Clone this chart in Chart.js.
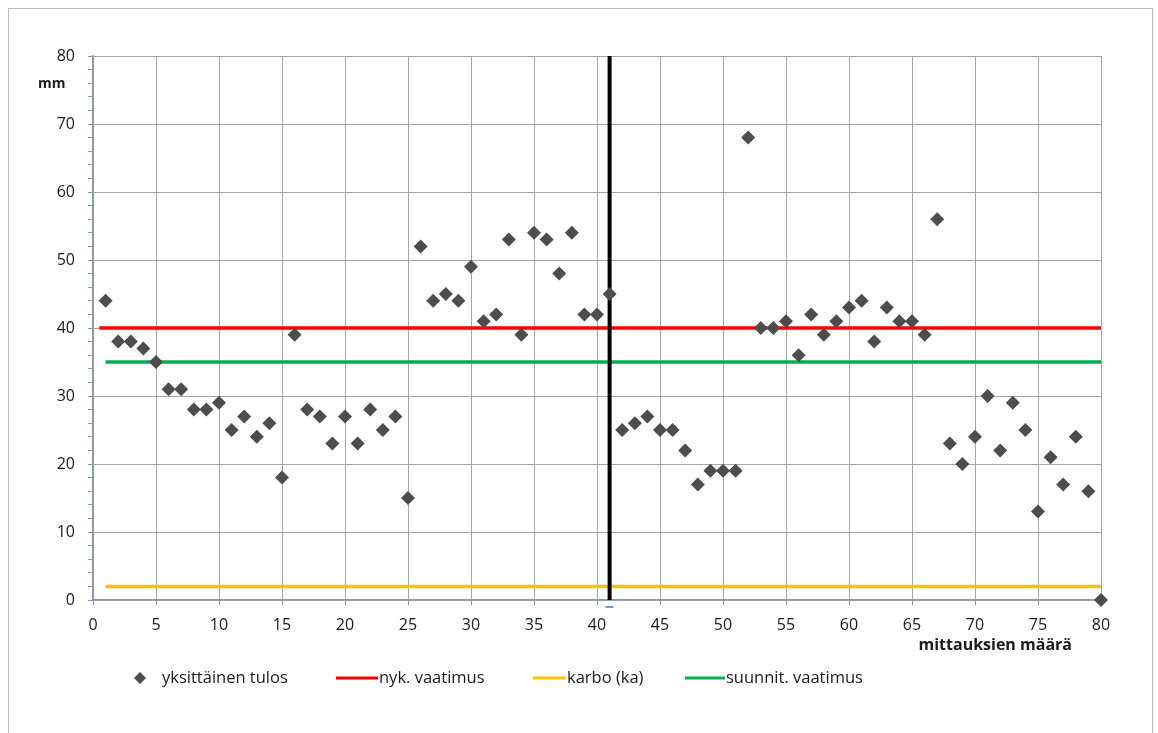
<!DOCTYPE html>
<html>
<head>
<meta charset="utf-8">
<script src="https://cdn.jsdelivr.net/npm/chart.js@4"></script>
<style>
  html, body { margin: 0; padding: 0; background: #fff; }
  #wrap { position: relative; width: 1158px; height: 733px; }
  #frame { position: absolute; left: 8px; top: 8px; width: 1145px; height: 740px;
           border: 1px solid #bdbdbd; box-sizing: border-box; pointer-events: none; }
  canvas { position: absolute; left: 0; top: 0; }
</style>
</head>
<body>
<div id="wrap">
  <canvas id="chart" width="1158" height="733"></canvas>
  <div id="frame"></div>
</div>
<script>
// ---------------------------------------------------------------------
// Data
// ---------------------------------------------------------------------
const MEAS_X = [
  1, 2, 3, 4, 5, 6, 7, 8, 9, 10, 11, 12, 13, 14, 15, 16, 17, 18, 19, 20,
  21, 22, 23, 24, 25, 26, 27, 28, 29, 30, 31, 32, 33, 34, 35, 36, 37, 38, 39, 40,
  41, 42, 43, 44, 45, 46, 47, 48, 49, 50, 51, 52, 53, 54, 55, 56, 57, 58, 59, 60,
  61, 62, 63, 64, 65, 66, 67, 68, 69, 70, 71, 72, 73, 74, 75, 76, 77, 78, 79, 80
];
const MEAS_Y = [
  44, 38, 38, 37, 35, 31, 31, 28, 28, 29, 25, 27, 24, 26, 18, 39, 28, 27, 23, 27,
  23, 28, 25, 27, 15, 52, 44, 45, 44, 49, 41, 42, 53, 39, 54, 53, 48, 54, 42, 42,
  45, 25, 26, 27, 25, 25, 22, 17, 19, 19, 19, 68, 40, 40, 41, 36, 42, 39, 41, 43,
  44, 38, 43, 41, 41, 39, 56, 23, 20, 24, 30, 22, 29, 25, 13, 21, 17, 24, 16, 0
];

const REQ_NOW = 40;        // nyk. vaatimus
const REQ_DESIGN = 35;     // suunnit. vaatimus
const KARBO = 2;           // karbo (ka)
const REQ_NOW_X = [0.5, 80];
const REQ_DESIGN_X = [1, 80];
const KARBO_X = [1, 80];
const DIVIDER_X = 41;
const DIVIDER_Y = [0, 80];

const X_MIN = 0, X_MAX = 80, X_STEP = 5;
const Y_MIN = 0, Y_MAX = 80, Y_STEP = 10, Y_MINOR = 2;

const LABELS = {
  scatter: "yksittäinen tulos",
  now: "nyk. vaatimus",
  karbo: "karbo (ka)",
  design: "suunnit. vaatimus",
  yTitle: "mm",
  xTitle: "mittauksien määrä"
};

const FONT = "'Open Sans', 'Liberation Sans', sans-serif";
const TEXT = "#1a1a1a";
const GRID = "#a6a6a6";
const AXIS = "#8796a8";

const pts = (xs, ys) => xs.map((x, i) => ({ x, y: ys[i] }));
const hline = (xs, v) => xs.map((x) => ({ x, y: v }));

// ---------------------------------------------------------------------
// Legend + axis titles drawn on canvas
// ---------------------------------------------------------------------
const extrasPlugin = {
  id: "extras",
  afterDraw(chart) {
    const c = chart.ctx;
    const area = chart.chartArea;
    c.save();
    c.fillStyle = TEXT;
    c.textBaseline = "middle";

    // axis titles
    c.font = `bold 14px ${FONT}`;
    c.textAlign = "left";
    c.fillText(LABELS.yTitle, 38, 84);
    c.font = `bold 16px ${FONT}`;
    c.textAlign = "right";
    c.fillText(LABELS.xTitle, area.right - 29, 645);

    // legend
    const ly = 678;
    c.font = `16.5px ${FONT}`;
    c.textAlign = "left";
    c.fillStyle = "#4d4d4d";
    c.beginPath();
    c.moveTo(140, ly - 6); c.lineTo(146, ly); c.lineTo(140, ly + 6); c.lineTo(134, ly);
    c.closePath(); c.fill();
    c.fillStyle = TEXT;
    c.fillText(LABELS.scatter, 162, ly);

    const lineItems = [
      { x0: 336, x1: 378, color: "#ff0000", text: LABELS.now },
      { x0: 533, x1: 566, color: "#ffc000", text: LABELS.karbo },
      { x0: 685, x1: 725, color: "#00b050", text: LABELS.design }
    ];
    lineItems.forEach((it) => {
      c.strokeStyle = it.color;
      c.lineWidth = 3;
      c.beginPath(); c.moveTo(it.x0, ly); c.lineTo(it.x1, ly); c.stroke();
      c.fillStyle = TEXT;
      c.fillText(it.text, it.x1 + 1, ly);
    });

    // small marker under divider on the x axis
    const dx = chart.scales.x.getPixelForValue(DIVIDER_X);
    c.strokeStyle = "#4472c4";
    c.lineWidth = 1.5;
    c.beginPath(); c.moveTo(dx - 4, area.bottom + 7); c.lineTo(dx + 4, area.bottom + 7); c.stroke();
    c.restore();
  }
};

const ctx = document.getElementById("chart").getContext("2d");
new Chart(ctx, {
  type: "scatter",
  data: {
    datasets: [
      {
        label: LABELS.now,
        data: hline(REQ_NOW_X, REQ_NOW),
        showLine: true,
        borderColor: "#ff0000",
        borderWidth: 3.5,
        pointRadius: 0,
        order: 3
      },
      {
        label: LABELS.design,
        data: hline(REQ_DESIGN_X, REQ_DESIGN),
        showLine: true,
        borderColor: "#00b050",
        borderWidth: 3.5,
        pointRadius: 0,
        order: 4
      },
      {
        label: LABELS.karbo,
        data: hline(KARBO_X, KARBO),
        showLine: true,
        borderColor: "#ffc000",
        borderWidth: 3.5,
        pointRadius: 0,
        order: 5
      },
      {
        label: "divider",
        data: DIVIDER_Y.map((y) => ({ x: DIVIDER_X, y })),
        showLine: true,
        borderColor: "#000000",
        borderWidth: 4,
        pointRadius: 0,
        order: 2
      },
      {
        label: LABELS.scatter,
        data: pts(MEAS_X, MEAS_Y),
        pointStyle: "rectRot",
        pointRadius: 7,
        backgroundColor: "#4d4d4d",
        borderColor: "#4d4d4d",
        borderWidth: 0,
        clip: false,
        order: 1
      }
    ]
  },
  options: {
    responsive: false,
    animation: false,
    devicePixelRatio: 1,
    layout: { padding: { top: 56, right: 57, left: 0, bottom: 0 } },
    plugins: {
      legend: { display: false },
      tooltip: { enabled: false }
    },
    scales: {
      x: {
        type: "linear",
        min: X_MIN, max: X_MAX,
        afterFit: (s) => { s.height = 133; },
        ticks: { stepSize: X_STEP, color: TEXT, font: { family: FONT, size: 16 }, padding: 11, maxRotation: 0 },
        grid: { color: GRID, lineWidth: 1, tickLength: 5, tickColor: AXIS },
        border: { color: AXIS, width: 1.5 }
      },
      y: {
        type: "linear",
        min: Y_MIN, max: Y_MAX,
        afterFit: (s) => { s.width = 93; },
        ticks: {
          stepSize: Y_MINOR,
          autoSkip: false,
          color: TEXT,
          font: { family: FONT, size: 16 },
          padding: 13,
          callback: (v) => (v % Y_STEP === 0 ? v : "")
        },
        grid: {
          color: (c) => (c.tick && c.tick.value % Y_STEP === 0 ? GRID : "rgba(0,0,0,0)"),
          lineWidth: 1,
          tickLength: 5,
          tickColor: AXIS
        },
        border: { color: AXIS, width: 1.5 }
      }
    }
  },
  plugins: [extrasPlugin]
});
</script>
</body>
</html>
